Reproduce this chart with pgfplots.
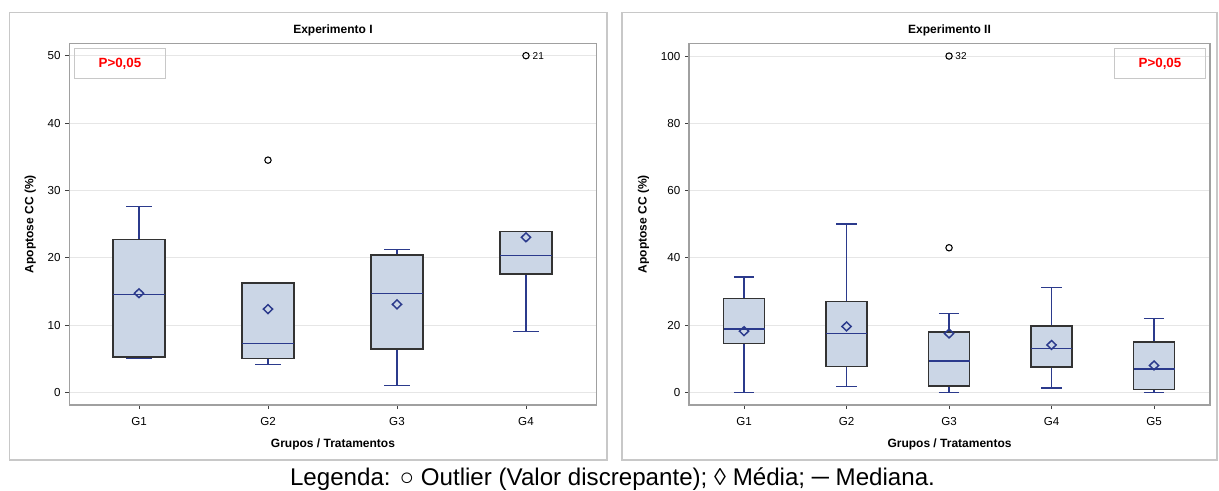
\documentclass[border=0pt]{standalone}
\usepackage{pgfplots}
\pgfplotsset{compat=1.18}
\usepgfplotslibrary{statistics}
\usepackage{fontspec}
\setmainfont{Liberation Sans}

\definecolor{boxfill}{HTML}{CBD6E6}
\definecolor{navyb}{HTML}{2B3A8C}
\definecolor{boxedge}{HTML}{333333}
\definecolor{frameg}{HTML}{A0A0A0}
\definecolor{outerg}{HTML}{C8C8C8}
\definecolor{gridg}{HTML}{E6E6E6}
\definecolor{pred}{HTML}{FF0000}

\pgfplotsset{
  sasaxis/.style={
    scale only axis,
    anchor=south west,
    axis line style={frameg, line width=0.9pt},
    tick style={black!75, line width=0.6pt},
    tick align=outside,
    major tick length=3pt,
    xtick pos=left, ytick pos=left,
    ymajorgrids,
    grid style={gridg, line width=0.8pt},
    ticklabel style={font=\fontsize{8.7}{10}\selectfont},
    xticklabel style={yshift=-3pt},
    /pgf/number format/assume math mode=true,
    label style={font=\bfseries\fontsize{9}{11}\selectfont},
    xlabel style={yshift=-3pt},
    xlabel={Grupos / Tratamentos},
    ylabel={Apoptose CC (\%)},
    ylabel style={yshift=2pt},
    title style={font=\bfseries\fontsize{9}{11}\selectfont, yshift=-4pt},
    boxplot/draw direction=y,
    boxplot/box extend=0.4,
    boxplot/whisker extend=0.2,
  },
  sasbox/.style={
    solid,
    mark=o, mark size=2.4pt,
    mark options={black, line width=0.8pt, solid},
    boxplot/every box/.style={draw=boxedge, fill=boxfill, line width=1.1pt},
    boxplot/every whisker/.style={draw=navyb, line width=1pt},
    boxplot/every median/.style={draw=navyb, line width=1pt},
  },
  sasmean/.style={
    only marks, mark=diamond, mark size=3.3pt,
    mark options={draw=navyb, line width=1.1pt, xscale=1.4, solid},
  },
}

\begin{document}
\begin{tikzpicture}
\path (0pt,0pt) rectangle (914.25pt,-367.5pt);
% outer frames
\draw[outerg, line width=0.9pt] (7.3pt,-9.5pt) rectangle (455.25pt,-345pt);
\draw[outerg, line width=0.9pt] (466.5pt,-9.5pt) rectangle (912.75pt,-345pt);

% ---------------- Experimento I ----------------
\begin{axis}[sasaxis,
  at={(52pt,-303.75pt)},
  width=395.4pt, height=271.3pt,
  title={Experimento I},
  xmin=0.46, xmax=4.547,
  ymin=-1.83, ymax=51.84,
  xtick={1,2,3,4}, xticklabels={G1,G2,G3,G4},
  ytick={0,10,20,30,40,50},
]
\addplot[sasbox, boxplot prepared={draw position=1,
  lower whisker=5.1, lower quartile=5.3, median=14.6,
  upper quartile=22.7, upper whisker=27.6}] coordinates {};
\addplot[sasbox, boxplot prepared={draw position=2,
  lower whisker=4.2, lower quartile=5.1, median=7.3,
  upper quartile=16.3, upper whisker=16.3}] coordinates {(0,34.5)};
\addplot[sasbox, boxplot prepared={draw position=3,
  lower whisker=1.1, lower quartile=6.5, median=14.75,
  upper quartile=20.4, upper whisker=21.2}] coordinates {};
\addplot[sasbox, boxplot prepared={draw position=4,
  lower whisker=9.05, lower quartile=17.6, median=20.4,
  upper quartile=23.9, upper whisker=23.9}] coordinates {(0,50)};
% means
\addplot[sasmean] coordinates {(1,14.75) (2,12.4) (3,13.1) (4,23.05)};
\node[anchor=west, font=\fontsize{7.5}{9}\selectfont, inner sep=0pt] at (axis cs:4.05,50) {21};
\node[anchor=north west, draw=outerg, line width=0.8pt, minimum width=68pt, minimum height=22.5pt,
  text=pred, font=\bfseries\fontsize{10}{12}\selectfont] at (rel axis cs:0.009,0.987) {P>0,05};
\end{axis}

% ---------------- Experimento II ----------------
\begin{axis}[sasaxis,
  at={(516.75pt,-303.75pt)},
  width=390.75pt, height=271.3pt,
  title={Experimento II},
  xmin=0.463, xmax=5.546,
  ymin=-3.76, ymax=103.8,
  xtick={1,2,3,4,5}, xticklabels={G1,G2,G3,G4,G5},
  ytick={0,20,40,60,80,100},
]
\addplot[sasbox, boxplot prepared={draw position=1,
  lower whisker=0, lower quartile=14.6, median=18.8,
  upper quartile=27.9, upper whisker=34.3}] coordinates {};
\addplot[sasbox, boxplot prepared={draw position=2,
  lower whisker=1.66, lower quartile=7.7, median=17.5,
  upper quartile=27.0, upper whisker=50.1}] coordinates {};
\addplot[sasbox, boxplot prepared={draw position=3,
  lower whisker=0, lower quartile=1.9, median=9.3,
  upper quartile=18.0, upper whisker=23.4}] coordinates {(0,43) (0,100)};
\addplot[sasbox, boxplot prepared={draw position=4,
  lower whisker=1.3, lower quartile=7.6, median=13.0,
  upper quartile=19.7, upper whisker=31.1}] coordinates {};
\addplot[sasbox, boxplot prepared={draw position=5,
  lower whisker=0, lower quartile=0.9, median=6.9,
  upper quartile=15.0, upper whisker=21.9}] coordinates {};
% means
\addplot[sasmean] coordinates {(1,18.2) (2,19.6) (3,17.5) (4,14.1) (5,8.0)};
\node[anchor=west, font=\fontsize{7.5}{9}\selectfont, inner sep=0pt] at (axis cs:3.06,100) {32};
\node[anchor=north east, draw=outerg, line width=0.8pt, minimum width=68pt, minimum height=22.5pt,
  text=pred, font=\bfseries\fontsize{10}{12}\selectfont] at (rel axis cs:0.992,0.987) {P>0,05};
\end{axis}

\node[font=\fontsize{18.1}{20}\selectfont, inner sep=0pt] at (459.4pt,-359pt)
  {Legenda: ○ Outlier (Valor discrepante); ◊ Média; ─ Mediana.};
\end{tikzpicture}
\end{document}
